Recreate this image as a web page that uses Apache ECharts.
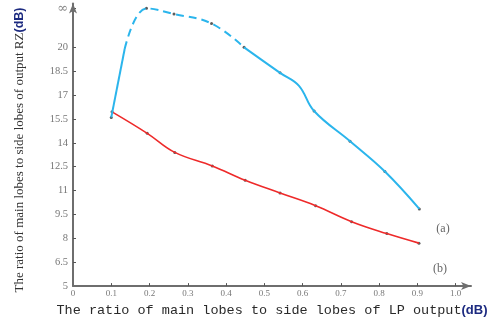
<!DOCTYPE html>
<html>
<head>
<meta charset="utf-8">
<script src="https://cdn.jsdelivr.net/npm/echarts@6/dist/echarts.min.js"></script>
<style>html,body{margin:0;padding:0;background:#fff;}#c{width:496px;height:322px;}</style>
</head>
<body>
<div id="c"></div>
<script>
// ---- data ----
const INF = 22.45; // position of the "∞" tick on the y axis
const xTickLabels = [0, 0.1, 0.2, 0.3, 0.4, 0.5, 0.6, 0.7, 0.8, 0.9, 1.0];
const yTickLabels = [5, 6.5, 8, 9.5, 11, 12.5, 14, 15.5, 17, 18.5, 20, INF];
// curve (a) (blue): solid start, dashed middle, solid end
const aSolid1X = [0.100, 0.135];
const aSolid1Y = [15.6, 19.9];
const aDashX = [0.135, 0.192, 0.264, 0.362, 0.447];
const aDashY = [19.9, INF, 22.1, 21.5, 20.0];
const aSolid2X = [0.447, 0.541, 0.590, 0.630, 0.724, 0.815, 0.905];
const aSolid2Y = [20.0, 18.4, 17.6, 16.0, 14.1, 12.2, 9.85];
const aDotX = [0.100, 0.192, 0.264, 0.362, 0.447, 0.541, 0.630, 0.724, 0.815, 0.905];
const aDotY = [15.6, INF, 22.1, 21.5, 20.0, 18.4, 16.0, 14.1, 12.2, 9.85];
// curve (b) (red)
const bX = [0.102, 0.194, 0.266, 0.364, 0.450, 0.541, 0.634, 0.728, 0.820, 0.904];
const bY = [15.95, 14.6, 13.4, 12.55, 11.65, 10.85, 10.05, 9.05, 8.3, 7.7];
const yTitle = 'The ratio of main lobes to side lobes of output RZ';
const xTitle = 'The ratio of main lobes to side lobes of LP output';
const unit = '(dB)';

const zip = (xs, ys) => xs.map((x, i) => [x, ys[i]]);
const BLUE = '#2bb5ec', RED = '#ee2a2a';

const chart = echarts.init(document.getElementById('c'), null, {renderer: 'canvas'});
chart.setOption({
  animation: false,
  backgroundColor: '#fff',
  grid: {left: 73, right: 25, top: 3.6, bottom: 32},
  xAxis: {
    type: 'value', min: 0, max: 1.04,
    splitLine: {show: false},
    axisLine: {lineStyle: {color: '#6e6e6e', width: 2}, symbol: ['none', 'arrow'], symbolSize: [6, 10]},
    axisTick: {inside: true, length: 3, lineStyle: {color: '#555'}, customValues: xTickLabels.slice(1)},
    axisLabel: {customValues: xTickLabels, margin: 3, fontFamily: 'Liberation Serif', fontSize: 9, color: '#777',
      formatter: v => v === 0 ? '0' : v.toFixed(1)},
    name: '{t|' + xTitle + '}{u|' + unit + '}',
    nameLocation: 'middle', nameGap: 16,
    nameTextStyle: {rich: {
      t: {fontFamily: 'Liberation Mono', fontSize: 13.5, color: '#2a2a2a'},
      u: {fontFamily: 'Liberation Sans', fontWeight: 'bold', fontSize: 13, color: '#1c2a80'}
    }}
  },
  yAxis: {
    type: 'value', min: 5, max: 22.75,
    splitLine: {show: false},
    axisLine: {lineStyle: {color: '#6e6e6e', width: 2}, symbol: ['none', 'arrow'], symbolSize: [6, 10]},
    axisTick: {inside: true, length: 3, lineStyle: {color: '#555'}, customValues: yTickLabels.slice(1)},
    axisLabel: {customValues: yTickLabels, margin: 5, fontFamily: 'Liberation Serif', fontSize: 10.5, color: '#777',
      formatter: v => v > 21 ? '{i|∞}' : String(v),
      rich: {i: {fontFamily: 'DejaVu Serif', fontSize: 13, color: '#888'}}}
  },
  series: [
    {type: 'line', data: zip(bX, bY), smooth: 0.4, showSymbol: false, lineStyle: {color: RED, width: 1.6}},
    {type: 'line', data: zip(aSolid1X, aSolid1Y), smooth: 0.3, showSymbol: false, lineStyle: {color: BLUE, width: 2}},
    {type: 'line', data: zip(aDashX, aDashY), smooth: 0.4, showSymbol: false, lineStyle: {color: BLUE, width: 2, type: [8, 5]}},
    {type: 'line', data: zip(aSolid2X, aSolid2Y), smooth: 0.4, showSymbol: false, lineStyle: {color: BLUE, width: 2}},
    {type: 'scatter', data: zip(aDotX, aDotY), symbolSize: 3, itemStyle: {color: '#333'}},
    {type: 'scatter', data: zip(bX, bY), symbolSize: 3, itemStyle: {color: '#333'}}
  ],
  graphic: [
    {type: 'text', x: 20, y: 150, rotation: Math.PI / 2,
      style: {text: '{t|' + yTitle + '}{u|' + unit + '}', align: 'center', verticalAlign: 'middle',
        rich: {
          t: {fontFamily: 'Liberation Serif', fontSize: 13, fill: '#333'},
          u: {fontFamily: 'Liberation Sans', fontWeight: 'bold', fontSize: 12.5, fill: '#1c2a80'}
        }}},
    {type: 'text', x: 443, y: 229, style: {text: '(a)', font: '12px "Liberation Serif"', fill: '#666', align: 'center', verticalAlign: 'middle'}},
    {type: 'text', x: 440, y: 269, style: {text: '(b)', font: '12px "Liberation Serif"', fill: '#666', align: 'center', verticalAlign: 'middle'}}
  ]
});
</script>
</body>
</html>
